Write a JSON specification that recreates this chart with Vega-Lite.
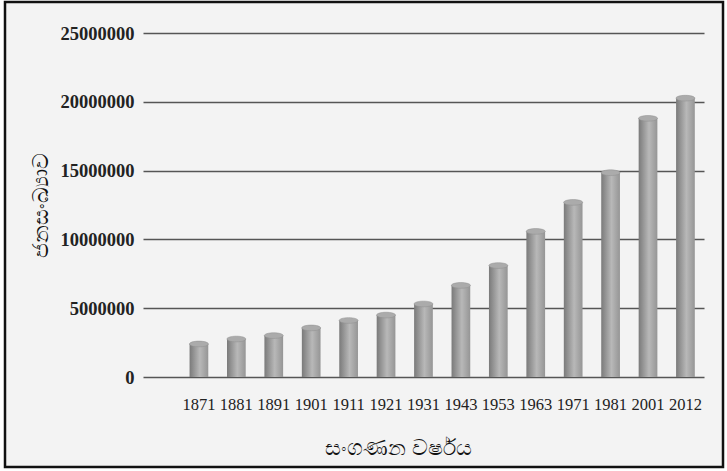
{
  "$schema": "https://vega.github.io/schema/vega-lite/v6.json",
  "width": 718,
  "height": 465,
  "autosize": "none",
  "padding": {"left": 5, "top": 2, "right": 4, "bottom": 4},
  "background": "#ffffff",
  "config": {"view": {"stroke": "#111111", "strokeWidth": 2.5, "fill": "#f3f3f3"}, "font": "Liberation Serif"},
  "data": {
    "values": [
      {"year": "1871", "population": 2400380},
      {"year": "1881", "population": 2759738},
      {"year": "1891", "population": 3007789},
      {"year": "1901", "population": 3565954},
      {"year": "1911", "population": 4106350},
      {"year": "1921", "population": 4498605},
      {"year": "1931", "population": 5306871},
      {"year": "1943", "population": 6657339},
      {"year": "1953", "population": 8097895},
      {"year": "1963", "population": 10582064},
      {"year": "1971", "population": 12689897},
      {"year": "1981", "population": 14846750},
      {"year": "2001", "population": 18797257},
      {"year": "2012", "population": 20263723}
    ]
  },
  "encoding": {
    "x": {
      "field": "year",
      "type": "ordinal",
      "sort": null,
      "scale": {"range": [138, 699], "paddingInner": 0.5, "paddingOuter": 0.745, "align": 0.835},
      "axis": {
        "offset": -90,
        "labelAngle": 0,
        "labelFontSize": 16.5,
        "labelColor": "#222222",
        "labelPadding": 19,
        "ticks": false,
        "domain": false,
        "title": "සංගණන වර්ෂය",
        "titleFont": "Noto Sans, sans-serif",
        "titleFontSize": 22,
        "titleFontWeight": "normal",
        "titleColor": "#111111",
        "titleX": 393,
        "titleY": 70,
        "titleBaseline": "middle"
      }
    },
    "y": {
      "field": "population",
      "type": "quantitative",
      "scale": {"domain": [0, 25000000], "range": [375, 31]},
      "axis": {
        "offset": -138,
        "values": [0, 5000000, 10000000, 15000000, 20000000, 25000000],
        "format": "d",
        "labelFontSize": 18.5,
        "labelFontWeight": "bold",
        "labelColor": "#222222",
        "labelPadding": 9,
        "ticks": false,
        "domain": false,
        "grid": true,
        "gridColor": "#555555",
        "gridWidth": 1.5,
        "gridOpacity": 1,
        "title": "ජනසංඛ්‍යාව",
        "titleFont": "Noto Sans, sans-serif",
        "titleFontSize": 22,
        "titleFontWeight": "normal",
        "titleColor": "#111111",
        "titleX": -103,
        "titleY": 203,
        "titleAlign": "center",
        "titleBaseline": "middle"
      }
    }
  },
  "layer": [
    {
      "mark": {
        "type": "bar",
        "color": {
          "gradient": "linear",
          "x1": 0, "x2": 1, "y1": 0, "y2": 0,
          "stops": [
            {"offset": 0, "color": "#7a7a7a"},
            {"offset": 0.55, "color": "#b8b8b8"},
            {"offset": 1, "color": "#959595"}
          ]
        }
      }
    },
    {
      "mark": {
        "type": "point",
        "filled": true,
        "shape": "M -1 0 A 1 0.3 0 1 1 1 0 A 1 0.3 0 1 1 -1 0 Z",
        "size": 361,
        "color": "#ababab",
        "stroke": "#8f8f8f",
        "strokeWidth": 0.5,
        "opacity": 1
      }
    }
  ]
}
